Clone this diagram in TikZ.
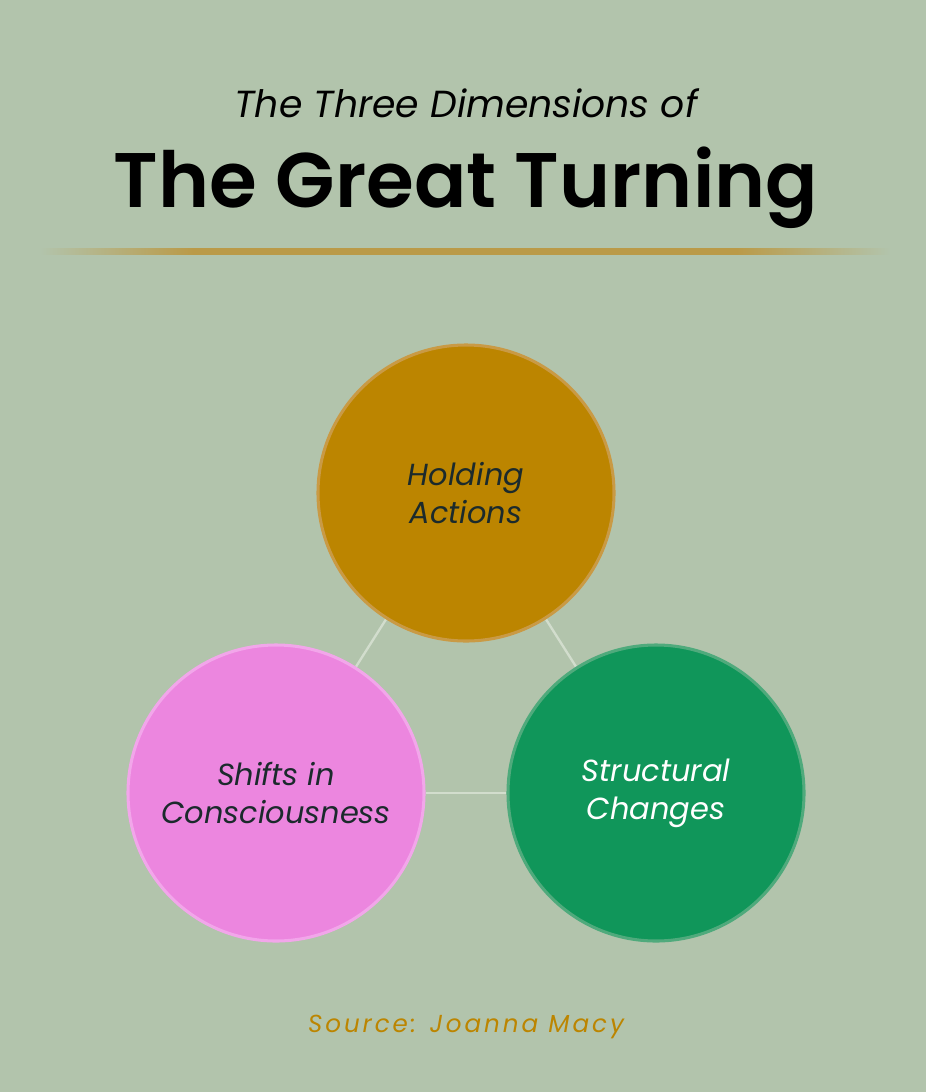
\documentclass[tikz,border=0pt]{standalone}
\usepackage{fontspec}
\setmainfont{Poppins}[BoldFont={Poppins SemiBold}]
\usepackage{tikz}

\definecolor{sage}{HTML}{B2C4AC}
\definecolor{ochre}{HTML}{BC8500}
\definecolor{ochreedge}{HTML}{C99A45}
\definecolor{rosefill}{HTML}{EC86DF}
\definecolor{roseedge}{HTML}{F2A6EA}
\definecolor{greenfill}{HTML}{10965A}
\definecolor{greenedge}{HTML}{4FAA7C}
\definecolor{rulegold}{HTML}{BA9A48}
\definecolor{linkcol}{HTML}{D2DDCD}
\definecolor{inkdark}{HTML}{1B2A2C}

\pgfdeclarehorizontalshading{ruleshade}{100bp}{%
  color(0bp)=(sage); color(25bp)=(sage); color(34bp)=(rulegold);
  color(66bp)=(rulegold); color(75bp)=(sage); color(100bp)=(sage)}

\pgfdeclarelayer{edges}
\pgfsetlayers{edges,main}

\tikzset{
  dimension/.style={circle, minimum size=8.88cm, inner sep=0pt, line width=2.6pt,
    align=center, font=\fontsize{26}{32.4}\selectfont\itshape},
  link/.style={linkcol, line width=2pt}
}

\begin{document}
\begin{tikzpicture}[x=0.03cm, y=-0.03cm]

            \useasboundingbox (0,0) rectangle (926,1092);

            \node[anchor=base, font=\fontsize{32.2}{38}\selectfont\itshape] (subtitle) at (466,117) {The Three Dimensions of};
            \node[anchor=base, font=\fontsize{66}{76}\selectfont\bfseries] (title) at (466,207) {The Great Turning};

            \node[dimension, fill=ochre, draw=ochreedge, text=inkdark] (holding) at (466,493) {Holding\\Actions};
            \node[dimension, fill=rosefill, draw=roseedge, text=inkdark] (shifts) at (276,793) {Shifts in\\Consciousness};
            \node[dimension, fill=greenfill, draw=greenedge, text=white] (structural) at (656,793) {Structural\\Changes};

            \node[anchor=base, font=\fontsize{21}{24}\selectfont\itshape\addfontfeatures{LetterSpace=12}, text=ochre] (source) at (466,1032) {Source: Joanna Macy};

            \begin{pgfonlayer}{edges}
                \fill[sage] (0,0) rectangle (926,1092);
                \shade[shading=ruleshade] (40,248) rectangle (890,254);
                \draw[link] (holding) -- (shifts);
                \draw[link] (holding) -- (structural);
                \draw[link] (shifts) -- (structural);
            \end{pgfonlayer}

        \end{tikzpicture}
\end{document}
